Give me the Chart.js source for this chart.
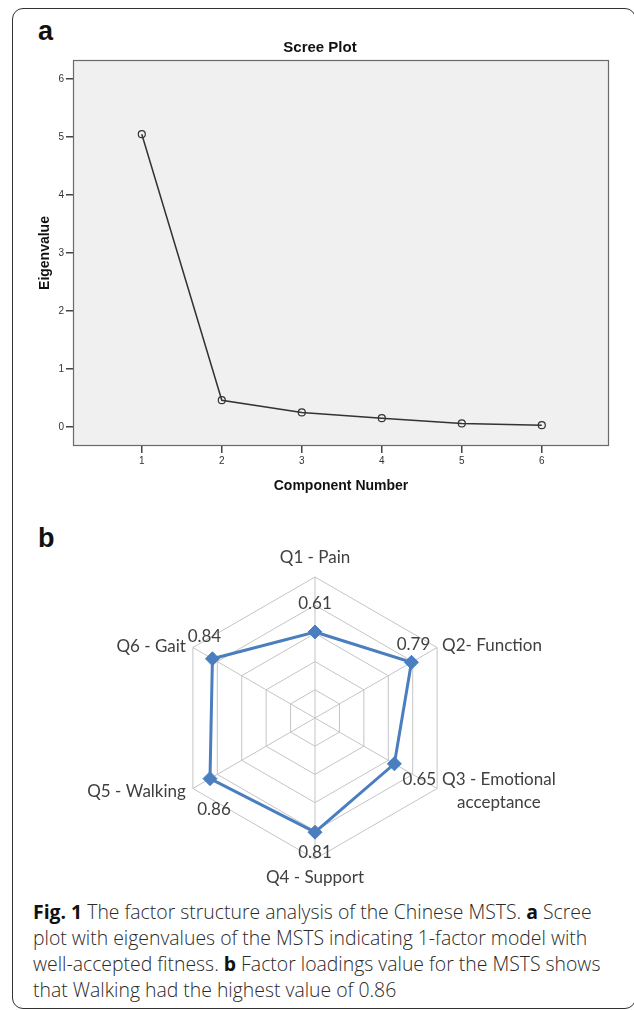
<!DOCTYPE html>
<html>
<head>
<meta charset="utf-8">
<script src="https://cdn.jsdelivr.net/npm/chart.js@4"></script>
<style>
  html, body { margin: 0; padding: 0; background: #fff; }
  body { width: 634px; height: 1010px; position: relative; overflow: hidden; }
  .frame {
    position: absolute; left: 12px; top: 8px; width: 624px; height: 1001px;
    border: 1.5px solid #333; border-radius: 11px; box-sizing: border-box;
  }
  .panel {
    position: absolute; left: 38px;
    font: bold 27px "Liberation Sans", Arial, sans-serif; line-height: 27px; color: #111;
  }
  #scree { position: absolute; left: 0; top: 0; }
  #radar { position: absolute; left: 0; top: 510px; }
  .caption {
    position: absolute; left: 33px; top: 899px; white-space: nowrap;
    font: 300 19.4px "Open Sans", sans-serif; line-height: 26px; color: #2a2a2a;
  }
  .caption b { font-weight: 700; color: #111; }
</style>
</head>
<body>
<div class="frame"></div>
<div class="panel" style="top:18px">a</div>
<div class="panel" style="top:525px">b</div>
<canvas id="scree" width="634" height="505"></canvas>
<canvas id="radar" width="634" height="380"></canvas>
<div class="caption"><b>Fig. 1</b> The factor structure analysis of the Chinese MSTS. <b>a</b> Scree<br>plot with eigenvalues of the MSTS indicating 1-factor model with<br>well-accepted fitness. <b>b</b> Factor loadings value for the MSTS shows<br>that Walking had the highest value of 0.86</div>
<script>
'use strict';

// panel a: scree plot
const components = [1, 2, 3, 4, 5, 6];
const eigenvalues = [5.05, 0.46, 0.25, 0.15, 0.06, 0.03];
const eigenTicks = [0, 1, 2, 3, 4, 5, 6];

// panel b: factor loadings
const items = ['Q1 - Pain', 'Q2- Function', ['Q3 - Emotional', 'acceptance'], 'Q4 - Support', 'Q5 - Walking', 'Q6 - Gait'];
const loadings = [0.61, 0.79, 0.65, 0.81, 0.86, 0.84];
const ringTicks = [0, 0.2, 0.4, 0.6, 0.8, 1];

const blue = '#4a7ebf';

const screeFrame = {
    id: 'screeFrame',
    beforeDraw(chart) {
        const {ctx, chartArea: a} = chart;
        ctx.save();
        ctx.fillStyle = '#f0f0f0';
        ctx.fillRect(a.left, a.top, a.right - a.left, a.bottom - a.top);
        ctx.restore();
    },
    afterDraw(chart) {
        const {ctx, chartArea: a} = chart;
        ctx.save();
        ctx.strokeStyle = '#6a6a6a';
        ctx.lineWidth = 1.2;
        ctx.strokeRect(a.left + 0.5, a.top + 0.5, a.right - a.left - 1, a.bottom - a.top - 1);
        ctx.fillStyle = '#111';
        ctx.font = 'bold 15px "Liberation Sans", Arial';
        ctx.textAlign = 'center';
        ctx.textBaseline = 'middle';
        ctx.fillText('Scree Plot', chart.width / 2 + 3, 48);
        ctx.restore();
    }
};

new Chart(document.getElementById('scree'), {
    type: 'line',
    data: {
        datasets: [{
            data: components.map((c, i) => ({x: c, y: eigenvalues[i]})),
            borderColor: '#333',
            borderWidth: 1.5,
            pointRadius: 3.5,
            pointBorderWidth: 1.2,
            pointBorderColor: '#333',
            pointBackgroundColor: 'rgba(0,0,0,0)',
            tension: 0,
        }],
    },
    options: {
        responsive: false,
        animation: false,
        layout: {padding: {left: 13, right: 25, top: 60, bottom: 9}},
        plugins: {legend: {display: false}, tooltip: {enabled: false}},
        scales: {
            x: {
                type: 'linear',
                min: 0.14,
                max: 6.84,
                afterBuildTicks: s => { s.ticks = components.map(v => ({value: v})); },
                afterFit: s => { s.height = 50; },
                grid: {drawOnChartArea: false, tickLength: 7, color: '#444', lineWidth: 1.5},
                border: {display: false},
                ticks: {padding: 2, color: '#333', font: {family: 'Arial', size: 10}},
                title: {
                    display: true, text: 'Component Number', color: '#111',
                    font: {family: 'Arial', size: 14, weight: 'bold'}, padding: {top: 0, bottom: 1},
                },
            },
            y: {
                min: -0.33,
                max: 6.33,
                afterBuildTicks: s => { s.ticks = eigenTicks.map(v => ({value: v})); },
                afterFit: s => { s.width = 60; },
                grid: {drawOnChartArea: false, tickLength: 7, color: '#444', lineWidth: 1.5},
                border: {display: false},
                ticks: {padding: 2, color: '#333', font: {family: 'Arial', size: 10}},
                title: {
                    display: true, text: 'Eigenvalue', color: '#111',
                    font: {family: 'Arial', size: 14, weight: 'bold'}, padding: {top: 24, bottom: 0},
                },
            },
        },
    },
    plugins: [screeFrame],
});

// label offsets from the outer vertex (category) and from the marker (value)
const labelShift = [[0, -19], [5, -2], [5, 3], [0, 19], [-7, 3], [-7, -1]];
const valueShift = [[0, -28], [2, -18], [25, 16], [0, 20], [4, 31], [-8, -22]];

const radarText = {
    id: 'radarText',
    afterDatasetsDraw(chart) {
        const r = chart.scales.r;
        const ctx = chart.ctx;
        ctx.save();
        ctx.font = '17px Lato';
        ctx.fillStyle = '#404040';
        ctx.textBaseline = 'middle';
        items.forEach((label, i) => {
            const p = r.getPointPosition(i, r.drawingArea);
            const [dx, dy] = labelShift[i];
            const lines = [].concat(label);
            const lh = 23;
            const y0 = p.y + dy - (lines.length - 1) * lh / 2;
            if (lines.length > 1) {
                const w = Math.max(...lines.map(t => ctx.measureText(t).width));
                ctx.textAlign = 'center';
                lines.forEach((t, k) => ctx.fillText(t, p.x + dx + w / 2, y0 + k * lh));
            } else {
                ctx.textAlign = dx > 0 ? 'left' : dx < 0 ? 'right' : 'center';
                ctx.fillText(lines[0], p.x + dx, y0);
            }
        });
        ctx.textAlign = 'center';
        chart.getDatasetMeta(0).data.forEach((pt, i) => {
            const [dx, dy] = valueShift[i];
            ctx.fillText(loadings[i].toFixed(2), pt.x + dx, pt.y + dy);
        });
        ctx.restore();
    }
};

new Chart(document.getElementById('radar'), {
    type: 'radar',
    data: {
        labels: items,
        datasets: [{
            data: loadings,
            borderColor: blue,
            borderWidth: 3,
            fill: false,
            pointStyle: 'rectRot',
            pointRadius: 7,
            pointBackgroundColor: blue,
            pointBorderColor: blue,
            pointBorderWidth: 1,
        }],
    },
    options: {
        responsive: false,
        animation: false,
        layout: {padding: {left: 174, right: 178, top: 67, bottom: 31}},
        plugins: {legend: {display: false}, tooltip: {enabled: false}},
        scales: {
            r: {
                min: 0,
                max: 1,
                afterBuildTicks: s => { s.ticks = ringTicks.map(v => ({value: v})); },
                ticks: {display: false},
                pointLabels: {display: false},
                grid: {color: '#c4c4c4', lineWidth: 1},
                angleLines: {color: '#c4c4c4', lineWidth: 1},
            },
        },
    },
    plugins: [radarText],
});
</script>
</body>
</html>
